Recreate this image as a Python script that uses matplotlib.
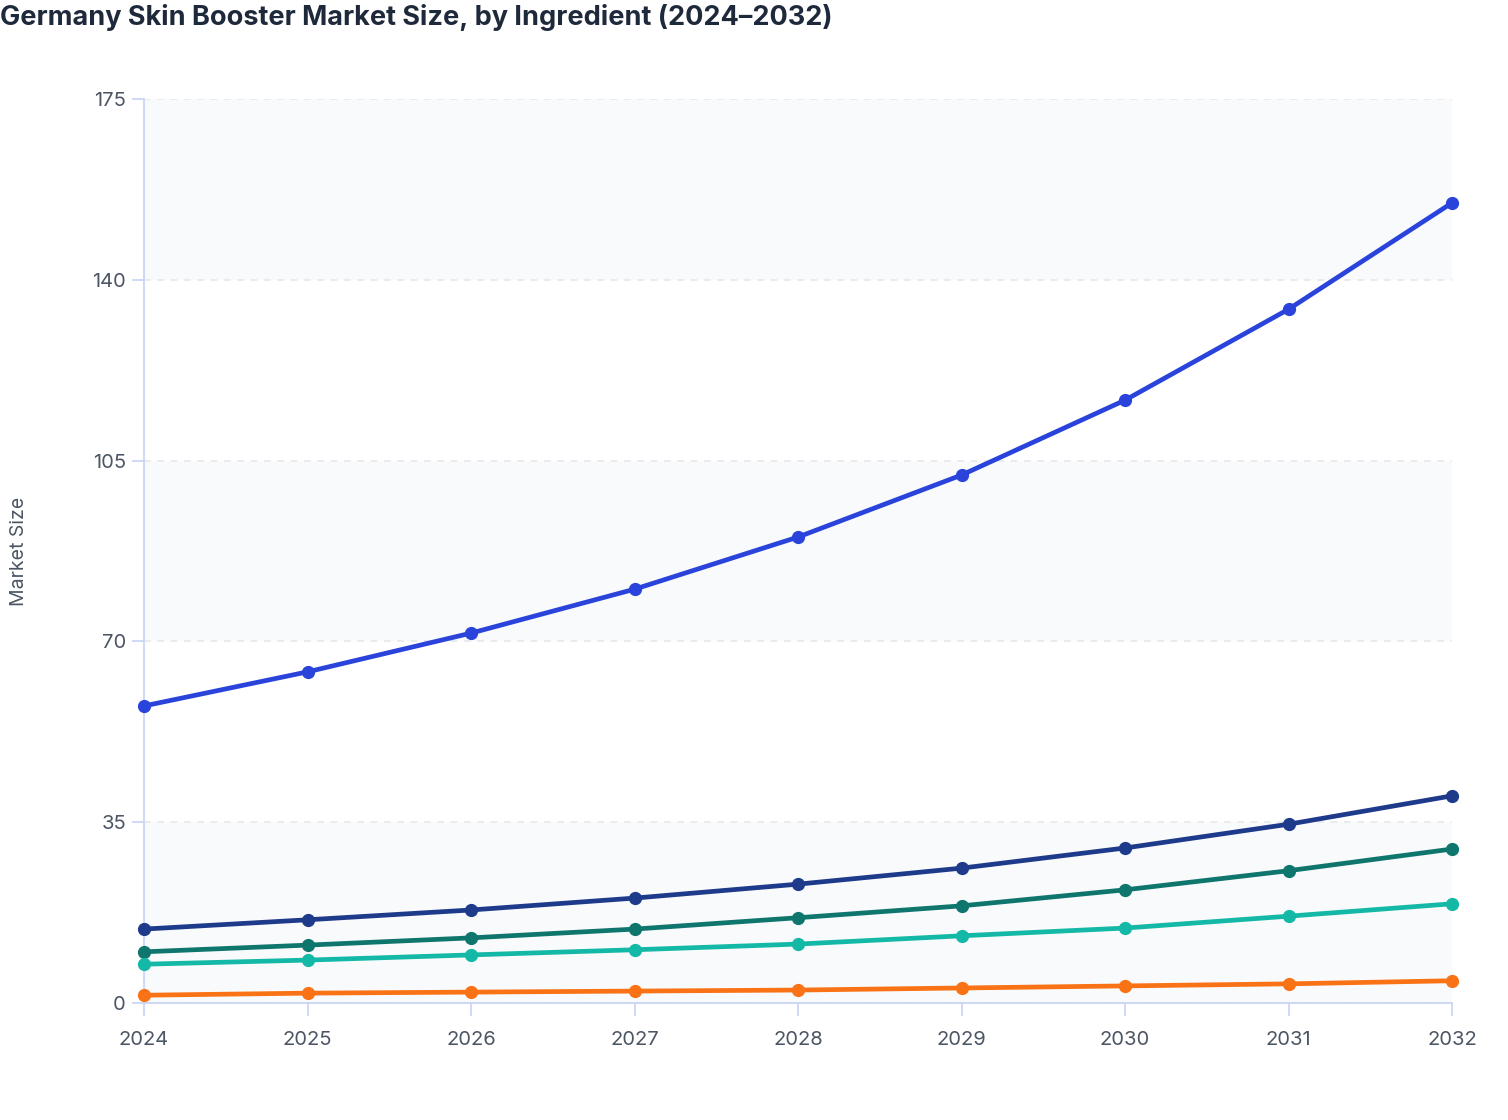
import matplotlib.pyplot as plt

plt.rcParams['font.family'] = ['Inter', 'DejaVu Sans']

years = [2024, 2025, 2026, 2027, 2028, 2029, 2030, 2031, 2032]
series_a = [57.5, 64.1, 71.6, 80.1, 90.2, 102.2, 116.7, 134.3, 154.9]
series_b = [14.3, 16.1, 18.0, 20.3, 23.0, 26.1, 30.0, 34.6, 40.1]
series_c = [9.9, 11.2, 12.6, 14.3, 16.5, 18.8, 21.9, 25.6, 29.8]
series_d = [7.5, 8.3, 9.3, 10.3, 11.4, 13.0, 14.5, 16.8, 19.2]
series_e = [1.5, 1.9, 2.1, 2.3, 2.5, 2.9, 3.3, 3.7, 4.3]
y_ticks = [0, 35, 70, 105, 140, 175]

colors = ['#2a44db', '#1e3a8a', '#0f766e', '#14b8a6', '#f97316']
all_series = [series_a, series_b, series_c, series_d, series_e]

fig = plt.figure(figsize=(15.08, 11.2), dpi=100)
ax = fig.add_axes([0.0955, 0.1045, 0.8674, 0.8071])

# alternating bands
for i in range(0, len(y_ticks) - 1, 2):
    ax.axhspan(y_ticks[i], y_ticks[i + 1], color='#f8fafc', zorder=0, lw=0)

for vals, c in zip(all_series, colors):
    ax.plot(years, vals, color=c, lw=3.4, marker='o', markersize=8.5,
            solid_capstyle='round', zorder=3, clip_on=False)

ax.set_xlim(years[0], years[-1])
ax.set_ylim(0, 175)
ax.set_xticks(years)
ax.set_yticks(y_ticks)
ax.grid(axis='y', color='#e5e7eb', linestyle=(0, (4, 4)), lw=1.2, zorder=1)
ax.set_axisbelow(True)

for s in ['top', 'right']:
    ax.spines[s].set_visible(False)
for s in ['left', 'bottom']:
    ax.spines[s].set_color('#c7d2f5')
    ax.spines[s].set_linewidth(1.2)

ax.tick_params(axis='both', colors='#c7d2f5', length=9, width=1.2,
               labelcolor='#4b5563', labelsize=14.5)
ax.tick_params(axis='x', pad=11)
ax.tick_params(axis='y', pad=4)

ax.set_ylabel('Market Size', color='#4b5563', fontsize=14)
ax.yaxis.set_label_coords(-0.089, 0.5)

fig.text(0.0, 0.984, 'Germany Skin Booster Market Size, by Ingredient (2024\u20132032)',
         fontsize=19.5, fontweight='bold', color='#1e293b', va='center', ha='left')

fig.savefig('out.png', dpi=100)
